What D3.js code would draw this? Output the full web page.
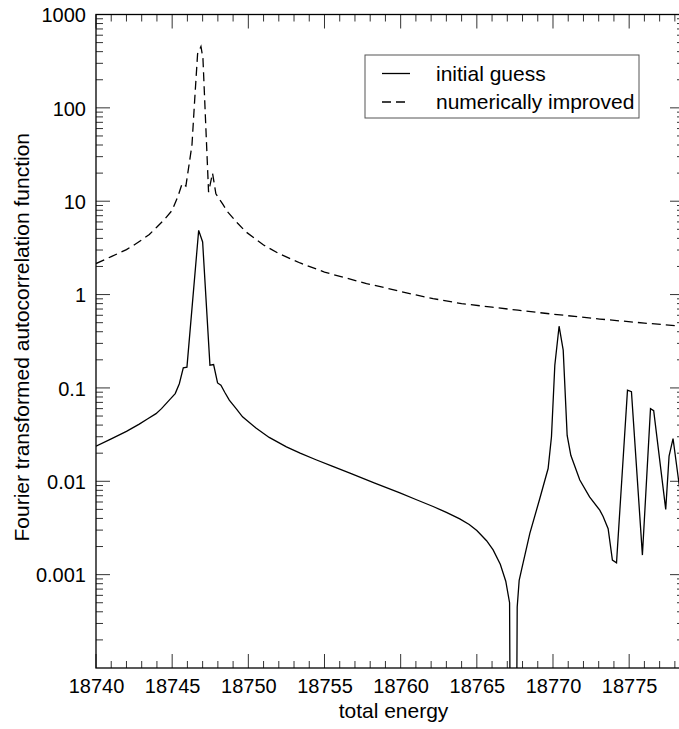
<!DOCTYPE html>
<html>
<head>
<meta charset="utf-8">
<script src="https://cdn.jsdelivr.net/npm/d3@7"></script>
<style>
  body { margin: 0; background: #fff; }
  svg text { font-family: "Liberation Sans", Arial, Helvetica, sans-serif; fill: #000; }
</style>
</head>
<body>
<svg id="chart" width="679" height="729"></svg>
<script>
// initial guess (solid)
const initialEnergy = [18740, 18741, 18742, 18742.84, 18743.4, 18743.94, 18744.3, 18744.6, 18744.9, 18745.2,
  18745.47, 18745.73, 18745.97, 18746.74, 18747.0, 18747.48, 18747.72, 18747.98, 18748.2, 18748.45,
  18748.75, 18749.2, 18749.62, 18750.5, 18751.37, 18752.5, 18753.4, 18754.44, 18755.5, 18756.67,
  18758.3, 18759.95, 18761, 18762.13, 18763, 18763.88, 18764.5, 18765, 18765.64, 18766.07,
  18766.54, 18766.9, 18767.15, 18767.2, 18767.6, 18767.65, 18767.78, 18767.93, 18768.48, 18769.13,
  18769.68, 18769.9, 18770.12, 18770.4, 18770.67, 18770.93, 18771.17, 18771.76, 18772.4, 18773.07,
  18773.29, 18773.62, 18773.9, 18774.17, 18774.89, 18775.15, 18775.87, 18776.4, 18776.61, 18777.4,
  18777.62, 18777.88, 18778.5];
const initialValue = [0.0238, 0.0285, 0.0343, 0.041, 0.0468, 0.053, 0.06, 0.068, 0.0767, 0.087,
  0.111, 0.164, 0.167, 4.87, 3.66, 0.175, 0.178, 0.113, 0.107, 0.09,
  0.074, 0.06, 0.049, 0.0372, 0.0295, 0.0234, 0.02, 0.017, 0.0145, 0.0122,
  0.00955, 0.0075, 0.00638, 0.00537, 0.00465, 0.00395, 0.00345, 0.00297, 0.00231, 0.00184,
  0.00129, 0.00085, 0.0005, 0.00001, 0.00001, 0.00045, 0.00087, 0.00112, 0.00277, 0.0065,
  0.0137, 0.03, 0.175, 0.458, 0.254, 0.031, 0.019, 0.0103, 0.0068, 0.0049,
  0.0042, 0.0031, 0.00143, 0.00134, 0.0946, 0.091, 0.00162, 0.060, 0.057, 0.005,
  0.0186, 0.0287, 0.005];

// numerically improved (dashed)
const improvedEnergy = [18740, 18741, 18742, 18742.5, 18743, 18743.5, 18744, 18744.5, 18745, 18745.4,
  18745.65, 18745.9, 18746.3, 18746.48, 18746.67, 18746.89, 18747.02, 18747.39, 18747.65, 18747.87,
  18748.3, 18748.64, 18749.3, 18749.84, 18751, 18752, 18753.4, 18755, 18757.76, 18758.9,
  18760, 18761, 18762.13, 18764, 18766, 18767.7, 18770, 18773.07, 18776, 18778.6];
const improvedValue = [2.15, 2.55, 3.03, 3.4, 3.85, 4.4, 5.3, 6.4, 8, 11.5,
  15.4, 14.5, 40, 123, 380, 454, 340, 12.5, 20, 12,
  9.4, 7.7, 5.8, 4.7, 3.4, 2.75, 2.18, 1.74, 1.31, 1.19,
  1.08, 0.99, 0.906, 0.80, 0.733, 0.68, 0.617, 0.547, 0.495, 0.457];

const xTicks = [18740, 18745, 18750, 18755, 18760, 18765, 18770, 18775];
const yTicks = [1000, 100, 10, 1, 0.1, 0.01, 0.001];
const yTickLabels = ['1000', '100', '10', '1', '0.1', '0.01', '0.001'];
const legendLabels = ['initial guess', 'numerically improved'];

const plotLeft = 96, plotRight = 684, plotTop = 14.5, plotBottom = 668;
const svg = d3.select('#chart');

const x = d3.scaleLinear().domain([18740, 18778.6]).range([plotLeft, plotRight]);
const y = d3.scaleLog().domain([1e-4, 1000]).range([plotBottom, plotTop]);

svg.append('defs').append('clipPath').attr('id', 'plot-clip')
    .append('rect')
    .attr('x', plotLeft).attr('y', plotTop)
    .attr('width', plotRight - plotLeft).attr('height', plotBottom - plotTop);

// minor ticks
const minorX = d3.range(18740, 18779, 1);
const minorY = [];
for (let e = -4; e < 3; e++) {
    for (let m = 2; m <= 9; m++) minorY.push(m * Math.pow(10, e));
}

const bottomAxis = d3.axisBottom(x).tickValues(xTicks).tickSize(0).tickPadding(10)
    .tickFormat(d3.format('d'));
const gx = svg.append('g').attr('transform', `translate(0,${plotBottom})`).call(bottomAxis);
gx.select('.domain').remove();
gx.selectAll('text').attr('font-size', 20).attr('dy', '0.75em');

const leftAxis = d3.axisLeft(y).tickValues(yTicks).tickSize(0).tickPadding(10)
    .tickFormat((d, i) => yTickLabels[i]);
const gy = svg.append('g').attr('transform', `translate(${plotLeft},0)`).call(leftAxis);
gy.select('.domain').remove();
gy.selectAll('text').attr('font-size', 20).attr('dy', '0.36em');

const ticks = svg.append('g').attr('stroke', '#333').attr('stroke-width', 1);
// x ticks bottom / top
minorX.forEach(v => {
    const len = xTicks.includes(v) ? 14 : 7;
    ticks.append('line').attr('x1', x(v)).attr('x2', x(v)).attr('y1', plotBottom).attr('y2', plotBottom - len);
    ticks.append('line').attr('x1', x(v)).attr('x2', x(v)).attr('y1', plotTop).attr('y2', plotTop + len);
});
// y ticks left / right
yTicks.concat(minorY).forEach(v => {
    const len = yTicks.includes(v) ? 14 : 7;
    ticks.append('line').attr('y1', y(v)).attr('y2', y(v)).attr('x1', plotLeft).attr('x2', plotLeft + len);
    ticks.append('line').attr('y1', y(v)).attr('y2', y(v)).attr('x1', plotRight).attr('x2', plotRight - len);
});

// frame
svg.append('rect')
    .attr('x', plotLeft).attr('y', plotTop)
    .attr('width', plotRight - plotLeft).attr('height', plotBottom - plotTop)
    .attr('fill', 'none').attr('stroke', '#000').attr('stroke-width', 1.3);

const line = d3.line().x(d => x(d[0])).y(d => y(d[1]));
const plot = svg.append('g').attr('clip-path', 'url(#plot-clip)');

plot.append('path')
    .datum(d3.zip(improvedEnergy, improvedValue))
    .attr('d', line)
    .attr('fill', 'none').attr('stroke', '#000').attr('stroke-width', 1.3)
    .attr('stroke-dasharray', '9,5');

plot.append('path')
    .datum(d3.zip(initialEnergy, initialValue))
    .attr('d', line)
    .attr('fill', 'none').attr('stroke', '#000').attr('stroke-width', 1.3);

// legend
const legend = svg.append('g');
legend.append('rect')
    .attr('x', 365).attr('y', 55).attr('width', 274).attr('height', 63)
    .attr('fill', '#fff').attr('stroke', '#555').attr('stroke-width', 1);
legendLabels.forEach((label, i) => {
    const ly = 73.5 + i * 28.5;
    legend.append('line')
        .attr('x1', 382).attr('x2', 410).attr('y1', ly).attr('y2', ly)
        .attr('stroke', '#000').attr('stroke-width', 1.3)
        .attr('stroke-dasharray', i === 0 ? null : '9,5');
    legend.append('text')
        .attr('x', 436).attr('y', ly).attr('dy', '0.35em')
        .attr('font-size', 21)
        .text(label);
});

// axis titles
svg.append('text')
    .attr('x', (plotLeft + 679) / 2 + 6).attr('y', 718)
    .attr('text-anchor', 'middle').attr('font-size', 21)
    .text('total energy');

svg.append('text')
    .attr('transform', `translate(29,${(plotTop + plotBottom) / 2 - 4}) rotate(-90)`)
    .attr('text-anchor', 'middle').attr('font-size', 21)
    .text('Fourier transformed autocorrelation function');
</script>
</body>
</html>
